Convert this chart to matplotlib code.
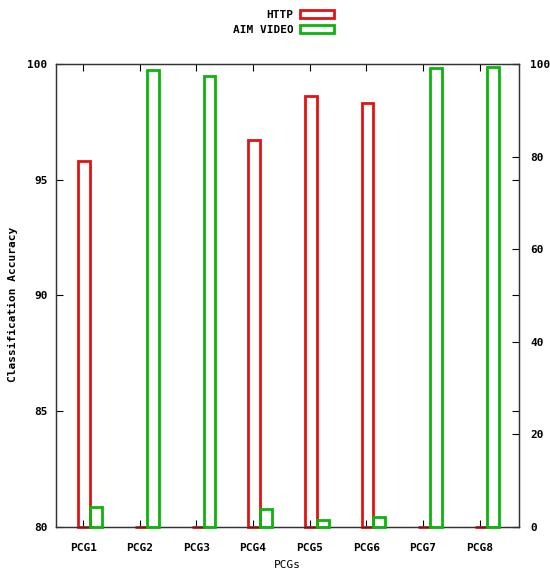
import numpy as np
import matplotlib
matplotlib.use("Agg")
import matplotlib.pyplot as plt
from matplotlib.patches import Patch

plt.rcParams['font.family'] = ['DejaVu Sans Mono', 'DejaVu Sans']
plt.rcParams['font.weight'] = 'bold'
plt.rcParams['font.size'] = 8

pcgs = ['PCG1', 'PCG2', 'PCG3', 'PCG4', 'PCG5', 'PCG6', 'PCG7', 'PCG8']
http_acc = [95.82, 80, 80, 96.72, 98.63, 98.30, 80, 80]      # left axis (80-100)
aim_video_acc = [4.3, 98.7, 97.3, 3.8, 1.45, 2.0, 99.1, 99.4]  # right axis (0-100)

red = '#e51212'
green = '#0cb40c'

fig = plt.figure(figsize=(5.5, 5.76), dpi=100)
ax = fig.add_axes([0.1018, 0.0856, 0.8424, 0.8033])
ax2 = ax.twinx()

x = np.arange(len(pcgs))
w = 0.21
base = 80
ax.bar(x + 0.02, np.array(http_acc) - base, w, bottom=base, facecolor='none',
       edgecolor=red, linewidth=2.0, zorder=3, clip_on=False)
ax2.bar(x + 0.23, aim_video_acc, w, bottom=0, facecolor='none',
        edgecolor=green, linewidth=2.0, zorder=3, clip_on=False)

ax.set_xlim(-0.48, 7.70)
ax.set_ylim(80, 100)
ax2.set_ylim(0, 100)
ax.set_xticks(x)
ax.set_xticklabels(pcgs)
ax.set_yticks(np.arange(80, 101, 5))
ax2.set_yticks(np.arange(0, 101, 20))

ax.tick_params(axis='x', direction='in', top=True, length=5, width=0.8, pad=12)
ax.tick_params(axis='y', direction='in', right=True, length=5, width=0.8, pad=6)
ax2.tick_params(axis='y', direction='in', length=5, width=0.8, pad=8)

for a in (ax, ax2):
    for s in a.spines.values():
        s.set_linewidth(0.9)
        s.set_color('#333333')

ax.set_xlabel('PCGs', labelpad=5)
ax.set_ylabel('Classification Accuracy', fontweight='bold')
ax.yaxis.set_label_coords(-0.082, 0.48)

handles = [Patch(facecolor='white', edgecolor=red, linewidth=2.0, label='HTTP'),
           Patch(facecolor='white', edgecolor=green, linewidth=2.0, label='AIM VIDEO')]
fig.legend(handles=handles, loc='upper center', bbox_to_anchor=(0.515, 1.0),
           frameon=False, markerfirst=False, handlelength=3.0, handleheight=0.7,
           handletextpad=0.6, labelspacing=0.45, fontsize=8)

fig.savefig('out.png', dpi=100)
